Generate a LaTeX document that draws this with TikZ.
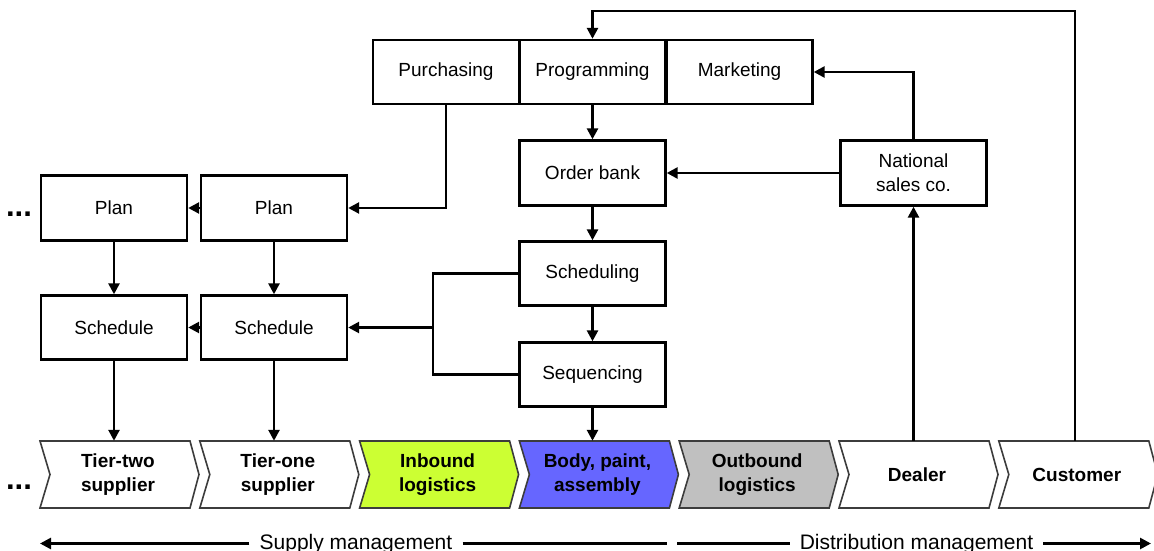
\documentclass[tikz,border=0pt]{standalone}
\usepackage{fontspec}
\setmainfont{Liberation Sans}
\usetikzlibrary{arrows.meta}
\definecolor{inboundfill}{RGB}{204,255,51}
\definecolor{bodyfill}{RGB}{102,102,255}
\definecolor{outboundfill}{RGB}{192,192,192}
\definecolor{chevedge}{RGB}{60,60,60}
\begin{document}
\begin{tikzpicture}[x=1pt,y=-1pt,
  box/.style={draw, line width=2.4pt, fill=white, minimum width=146pt,
    minimum height=64pt, inner sep=0pt, align=center,
    font=\fontsize{19}{24}\selectfont},
  chevlabel/.style={minimum width=120pt, minimum height=67pt, inner sep=0pt,
    align=center, font=\bfseries\fontsize{19}{24}\selectfont},
  conn/.style={draw, line width=2.6pt},
  arr/.style={conn, -{Triangle[length=11pt,width=11pt]}},
  dots/.style={anchor=base, inner sep=0pt, font=\bfseries\fontsize{31}{31}\selectfont},
  scope/.style={inner sep=10pt, anchor=base, font=\fontsize{21}{24}\selectfont},
  chev/.pic={\path[draw=chevedge, line width=1.6pt, line join=miter, pic actions]
    (0,0) -- (150,0) -- (159,33.5) -- (150,67) -- (0,67) -- (10,33.5) -- cycle;}
]
\useasboundingbox (0,0) rectangle (1154,551);

% value chain
\pic[fill=white]        at (40,441)    {chev};
\pic[fill=white]        at (199.8,441) {chev};
\pic[fill=inboundfill]  at (359.6,441) {chev};
\pic[fill=bodyfill]     at (519.4,441) {chev};
\pic[fill=outboundfill] at (679.2,441) {chev};
\pic[fill=white]        at (839,441)   {chev};
\pic[fill=white]        at (998.8,441) {chev};

\node[chevlabel] (tiertwo)  at (118,474.5)    {Tier-two\\supplier};
\node[chevlabel] (tierone)  at (277.8,474.5)  {Tier-one\\supplier};
\node[chevlabel] (inbound)  at (437.6,474.5)  {Inbound\\logistics};
\node[chevlabel] (body)     at (597.4,474.5)  {Body, paint,\\assembly};
\node[chevlabel] (outbound) at (757.2,474.5)  {Outbound\\logistics};
\node[chevlabel] (dealer)   at (917,474.5)    {Dealer};
\node[chevlabel] (customer) at (1076.8,474.5) {Customer};

% planning boxes
\node[box] (purch) at (446,72)   {Purchasing};
\node[box] (prog)  at (592.5,72) {Programming};
\node[box] (mkt)   at (739.5,72) {Marketing};
\node[box, minimum height=65pt] (order) at (592.5,173) {Order bank};
\node[box] (sched) at (592.5,273.5)  {Scheduling};
\node[box] (seq)   at (592.5,374.5)  {Sequencing};
\node[box, minimum height=65pt] (nat) at (913.5,173) {National\\sales co.};
\node[box, minimum height=65pt] (planL) at (114,208) {Plan};
\node[box, minimum height=65pt] (planR) at (274,208) {Plan};
\node[box] (schedL) at (114,327.5) {Schedule};
\node[box] (schedR) at (274,327.5) {Schedule};

\node[dots] (dotsA) at (19,216)   {...};
\node[dots] (dotsB) at (19,489.5) {...};

% information flows
\coordinate (split) at (433,327.5);
\draw[arr] (customer.north -| 1075,0) -- (1075,11) -| (prog.north);
\draw[arr] (nat.north) |- (mkt.east);
\draw[arr] (dealer.north -| nat.south) -- (nat.south);
\draw[arr] (nat.west) -- (order.east);
\draw[arr] (prog.south) -- (order.north);
\draw[arr] (order.south) -- (sched.north);
\draw[arr] (sched.south) -- (seq.north);
\draw[arr] (seq.south) -- (seq.south |- body.north);
\draw[arr] (purch.south) |- (planR.east);
\draw[conn] (sched.west) -| (split) |- (seq.west);
\draw[arr] (split) -- (schedR.east);
\draw[arr] (planR.west) -- (planL.east);
\draw[arr] (schedR.west) -- (schedL.east);
\draw[arr] (planL.south) -- (schedL.north);
\draw[arr] (planR.south) -- (schedR.north);
\draw[arr] (schedL.south) -- (schedL.south |- tiertwo.north);
\draw[arr] (schedR.south) -- (schedR.south |- tierone.north);

% management scopes
\node[scope] (supply) at (356,549.5) {Supply management};
\node[scope] (distrib) at (916.5,549.5) {Distribution management};
\coordinate (sl) at (40,543.5);
\coordinate (sm1) at (667,543.5);
\coordinate (sm2) at (677,543.5);
\coordinate (sr) at (1151,543.5);
\draw[arr] (supply.west |- sl) -- (sl);
\draw[conn] (supply.east |- sl) -- (sm1);
\draw[conn] (sm2) -- (distrib.west |- sl);
\draw[arr] (distrib.east |- sl) -- (sr);
\end{tikzpicture}
\end{document}
